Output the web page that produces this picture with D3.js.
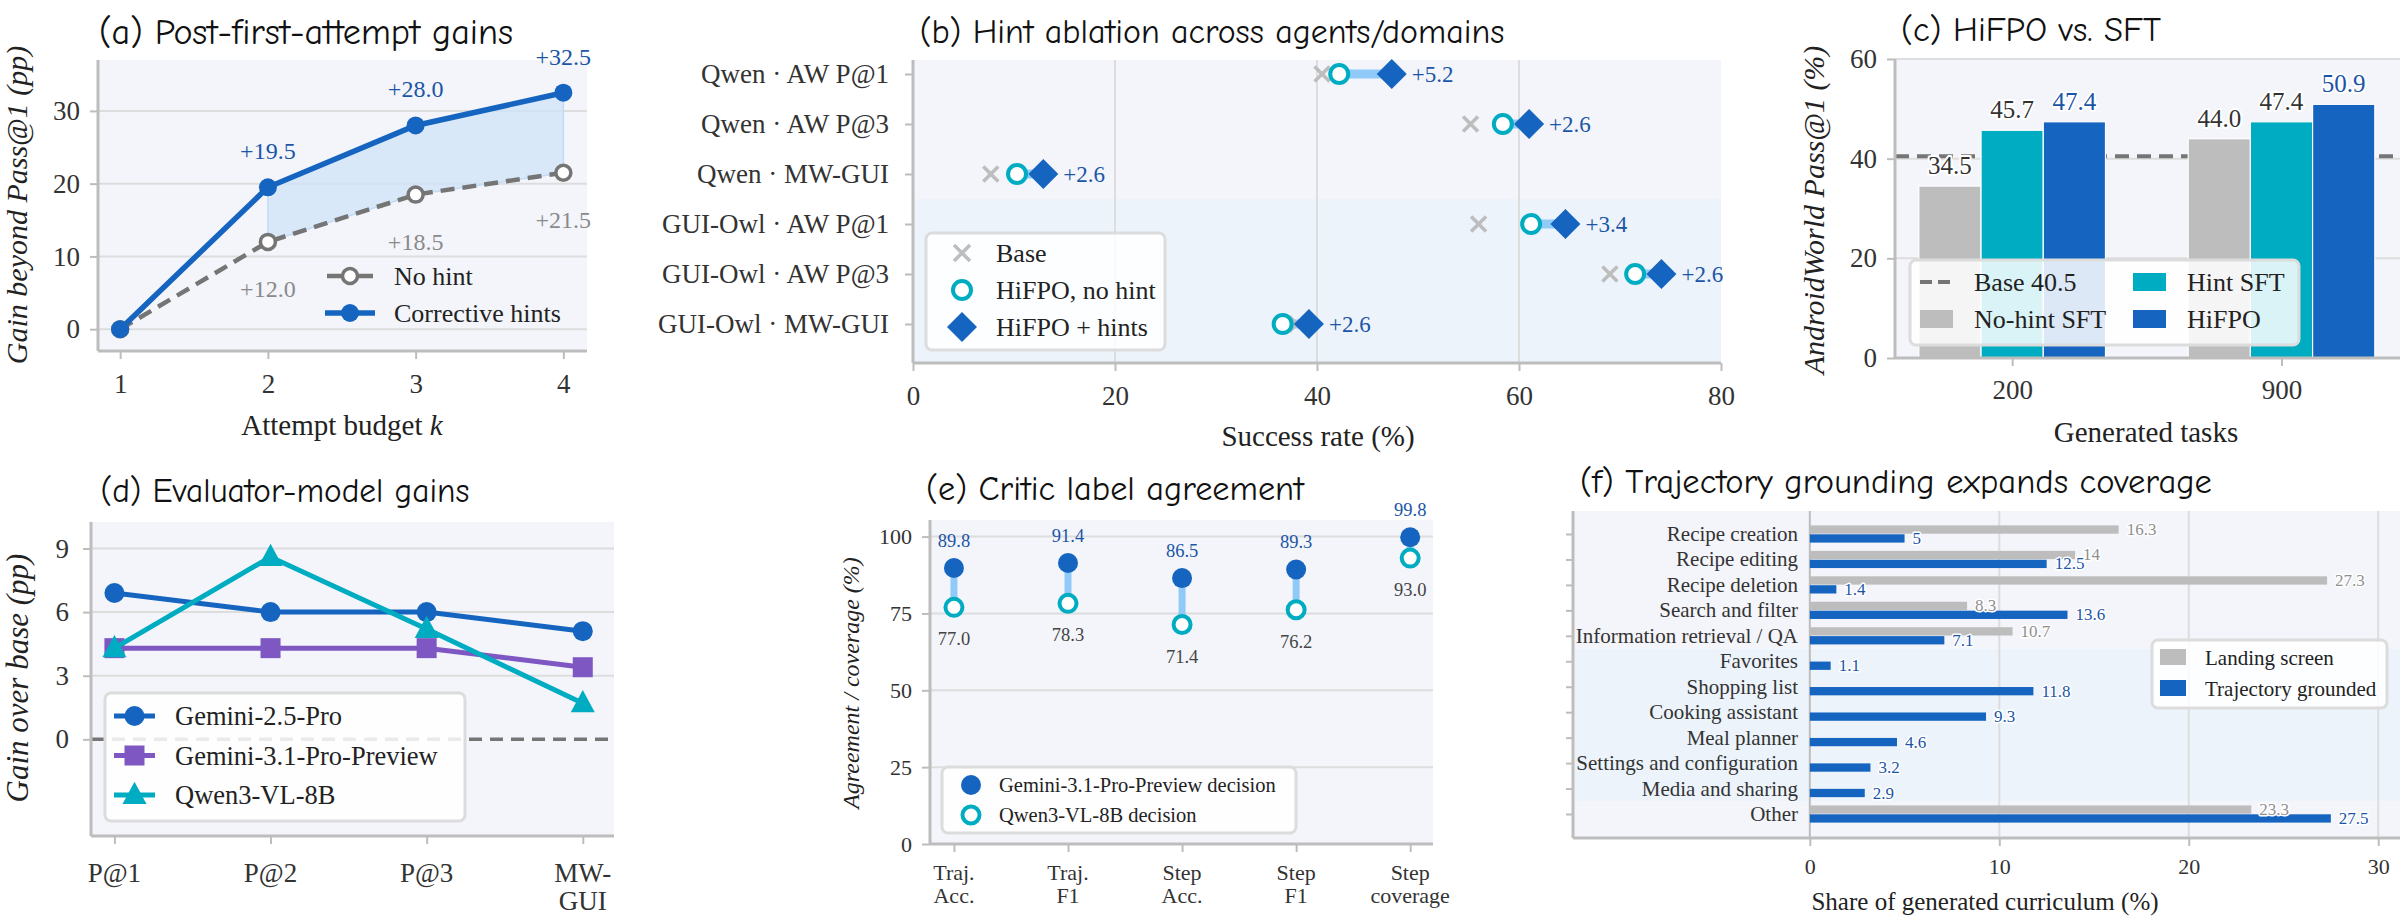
<!DOCTYPE html>
<html><head><meta charset="utf-8">
<script src="https://cdn.jsdelivr.net/npm/d3@7"></script>
<style>
body{margin:0;background:#fff}
text{font-family:"Liberation Serif","Times New Roman",serif;}
</style>
</head><body>
<svg id="chart" width="2400" height="923"></svg>
<script>
// ---------------- DATA ----------------
const aK = [1, 2, 3, 4];
const aNoHint = [0, 12.0, 18.5, 21.5];
const aHint = [0, 19.5, 28.0, 32.5];
const aYTicks = [0, 10, 20, 30];

const bRows = ["Qwen · AW P@1", "Qwen · AW P@3", "Qwen · MW-GUI", "GUI-Owl · AW P@1", "GUI-Owl · AW P@3", "GUI-Owl · MW-GUI"];
const bBase = [40.5, 55.2, 7.7, 56.0, 69.0, 38.0];
const bNoHint = [42.2, 58.4, 10.3, 61.2, 71.5, 36.6];
const bHints = [47.4, 61.0, 12.9, 64.6, 74.1, 39.2];
const bXTicks = [0, 20, 40, 60, 80];

const cGroups = ["200", "900"];
const cNoHintSFT = [34.5, 44.0];
const cHintSFT = [45.7, 47.4];
const cHiFPO = [47.4, 50.9];
const cBase = 40.5;
const cYTicks = [0, 20, 40, 60];

const dCats = [["P@1"], ["P@2"], ["P@3"], ["MW-", "GUI"]];
const dGemini25 = [6.9, 6.0, 6.0, 5.1];
const dGemini31 = [4.3, 4.3, 4.3, 3.4];
const dQwen = [4.3, 8.6, 5.2, 1.7];
const dYTicks = [0, 3, 6, 9];

const eCats = [["Traj.", "Acc."], ["Traj.", "F1"], ["Step", "Acc."], ["Step", "F1"], ["Step", "coverage"]];
const eGemini = [89.8, 91.4, 86.5, 89.3, 99.8];
const eQwen = [77.0, 78.3, 71.4, 76.2, 93.0];
const eYTicks = [0, 25, 50, 75, 100];

const fCats = ["Recipe creation", "Recipe editing", "Recipe deletion", "Search and filter", "Information retrieval / QA", "Favorites", "Shopping list", "Cooking assistant", "Meal planner", "Settings and configuration", "Media and sharing", "Other"];
const fLanding = [16.3, 14, 27.3, 8.3, 10.7, 0, 0, 0, 0, 0, 0, 23.3];
const fTraj = [5, 12.5, 1.4, 13.6, 7.1, 1.1, 11.8, 9.3, 4.6, 3.2, 2.9, 27.5];
const fXTicks = [0, 10, 20, 30];

// ---------------- STYLE ----------------
const C = {bgA:"#f3f5fa", bgB:"#edf3fb", grid:"#dddddd", spine:"#bdbdbd", blue:"#1565c0", teal:"#00acc1",
  gray:"#bdbdbd", conn:"#90caf9", purple:"#7e57c2", dash:"#757575", tick:"#333", lblBlue:"#1b55a6", lblGray:"#8a8a8a"};

const svg = d3.select("#chart");
svg.append("rect").attr("width",2400).attr("height",923).attr("fill","#fff");

function txt(g, x, y, s, o={}) {
  const t = g.append("text").attr("x",x).attr("y",y).text(s)
    .attr("font-size", o.size||27).attr("fill", o.fill||C.tick).attr("text-anchor", o.anchor||"start");
  if (o.italic) t.attr("font-style","italic");
  if (o.halo) t.attr("stroke","#fff").attr("stroke-width",o.halo).attr("paint-order","stroke").attr("stroke-linejoin","round");
  if (o.rotate) t.attr("transform",`rotate(-90,${x},${y})`);
  return t;
}
function title(x, y, s, w) {
  const t = svg.append("text").attr("x",x).attr("y",y).attr("text-anchor","middle")
    .style("font-family",'"Comic Sans MS","Comic Neue","Noto Sans",sans-serif')
    .attr("font-size",30).attr("fill","#111").text(s);
  const L = t.node().getComputedTextLength();
  if (L > 0) t.attr("font-size", 30*w/L);
}
function styleAxis(sel, size) {
  sel.select(".domain").remove();
  sel.selectAll(".tick line").attr("stroke",C.spine).attr("stroke-width",2);
  sel.selectAll(".tick text").attr("fill",C.tick).attr("font-size",size);
}
function spines(g, x0, x1, y0, y1) {
  g.append("line").attr("x1",x0).attr("x2",x0).attr("y1",y0).attr("y2",y1).attr("stroke",C.spine).attr("stroke-width",3);
  g.append("line").attr("x1",x0).attr("x2",x1).attr("y1",y1).attr("y2",y1).attr("stroke",C.spine).attr("stroke-width",3);
}
function legendBox(g, x, y, w, h) {
  g.append("rect").attr("x",x).attr("y",y).attr("width",w).attr("height",h).attr("rx",6)
    .attr("fill","#fff").attr("fill-opacity",0.85).attr("stroke","#dcdcdc").attr("stroke-width",3);
}
const diamond = (cx, cy, r) => `M${cx},${cy-r}L${cx+r},${cy}L${cx},${cy+r}L${cx-r},${cy}Z`;
const triangle = (cx, cy, r) => `M${cx},${cy-r*1.1}L${cx+r},${cy+r*0.75}L${cx-r},${cy+r*0.75}Z`;
const cross = (cx, cy, r) => `M${cx-r},${cy-r}L${cx+r},${cy+r}M${cx-r},${cy+r}L${cx+r},${cy-r}`;

// ---------------- PANEL A ----------------
{
  const P = {x0:98, x1:587, y0:60, y1:351};
  const x = d3.scaleLinear().domain([0.85,4.16]).range([P.x0,P.x1]);
  const y = d3.scaleLinear().domain([-3,37]).range([P.y1,P.y0]);
  const g = svg.append("g");
  g.append("rect").attr("x",P.x0).attr("y",P.y0).attr("width",P.x1-P.x0).attr("height",P.y1-P.y0).attr("fill",C.bgA);
  g.selectAll("line.grid").data(aYTicks).join("line").attr("x1",P.x0).attr("x2",P.x1)
    .attr("y1",d=>y(d)).attr("y2",d=>y(d)).attr("stroke",C.grid).attr("stroke-width",2);
  const area = d3.area().x((d,i)=>x(aK[i+1])).y0((d,i)=>y(aNoHint[i+1])).y1(d=>y(d));
  g.append("path").datum(aHint.slice(1)).attr("d",area).attr("fill","#cfe3f8").attr("fill-opacity",0.75)
    .attr("stroke","#c2dcf6").attr("stroke-width",1.5);
  const ya = g.append("g").attr("transform",`translate(${P.x0},0)`).call(d3.axisLeft(y).tickValues(aYTicks).tickSize(8).tickPadding(10));
  styleAxis(ya, 27);
  const xa = g.append("g").attr("transform",`translate(0,${P.y1})`)
    .call(d3.axisBottom(x).tickValues(aK).tickFormat(d3.format("d")).tickSize(8).tickPadding(15));
  styleAxis(xa, 27);
  spines(g, P.x0, P.x1, P.y0, P.y1);
  const line = d3.line().x((d,i)=>x(aK[i])).y(d=>y(d));
  g.append("path").datum(aNoHint).attr("d",line).attr("fill","none").attr("stroke",C.dash).attr("stroke-width",4.5).attr("stroke-dasharray","14,8");
  g.append("path").datum(aHint).attr("d",line).attr("fill","none").attr("stroke",C.blue).attr("stroke-width",5.5);
  g.selectAll("circle.nh").data(aNoHint).join("circle").attr("cx",(d,i)=>x(aK[i])).attr("cy",d=>y(d)).attr("r",7.5)
    .attr("fill","#fff").attr("stroke",C.dash).attr("stroke-width",3.5);
  g.selectAll("circle.h").data(aHint).join("circle").attr("cx",(d,i)=>x(aK[i])).attr("cy",d=>y(d)).attr("r",9).attr("fill",C.blue);
  aHint.forEach((v,i)=>{ if(i>0) txt(g, x(aK[i]), y(v)-28, "+"+v.toFixed(1), {size:24, fill:C.lblBlue, anchor:"middle"}); });
  aNoHint.forEach((v,i)=>{ if(i>0) txt(g, x(aK[i]), y(v)+55, "+"+v.toFixed(1), {size:24, fill:C.lblGray, anchor:"middle"}); });
  // legend
  g.append("line").attr("x1",327).attr("x2",373).attr("y1",276).attr("y2",276).attr("stroke",C.dash).attr("stroke-width",4.5);
  g.append("circle").attr("cx",350).attr("cy",276).attr("r",7.5).attr("fill","#fff").attr("stroke",C.dash).attr("stroke-width",3.5);
  txt(g, 394, 285, "No hint", {size:26, fill:"#222"});
  g.append("line").attr("x1",325).attr("x2",375).attr("y1",313).attr("y2",313).attr("stroke",C.blue).attr("stroke-width",5.5);
  g.append("circle").attr("cx",350).attr("cy",313).attr("r",9).attr("fill",C.blue);
  txt(g, 394, 322, "Corrective hints", {size:26, fill:"#222"});
  // axis labels
  const xl = txt(g, 342, 435, "Attempt budget ", {size:29, fill:"#222", anchor:"middle"});
  xl.append("tspan").attr("font-style","italic").text("k");
  txt(g, 27, 205, "Gain beyond Pass@1 (pp)", {size:30, fill:"#222", anchor:"middle", italic:true, rotate:true});
}
title(306, 44, "(a) Post-first-attempt gains", 414);

// ---------------- PANEL B ----------------
{
  const P = {x0:913, x1:1721, y0:60, y1:363};
  const x = d3.scaleLinear().domain([0,80]).range([P.x0,P.x1]);
  const y = d3.scaleLinear().domain([-0.28,5.78]).range([P.y0,P.y1]);
  const g = svg.append("g");
  g.append("rect").attr("x",P.x0).attr("y",P.y0).attr("width",P.x1-P.x0).attr("height",y(2.5)-P.y0).attr("fill",C.bgA);
  g.append("rect").attr("x",P.x0).attr("y",y(2.5)).attr("width",P.x1-P.x0).attr("height",P.y1-y(2.5)).attr("fill",C.bgB);
  g.selectAll("line.grid").data(bXTicks.slice(1,4)).join("line").attr("x1",d=>x(d)).attr("x2",d=>x(d))
    .attr("y1",P.y0).attr("y2",P.y1).attr("stroke",C.grid).attr("stroke-width",2);
  const ya = g.append("g").attr("transform",`translate(${P.x0},0)`)
    .call(d3.axisLeft(y).tickValues(d3.range(bRows.length)).tickFormat(i=>bRows[i]).tickSize(8).tickPadding(16));
  styleAxis(ya, 27);
  const xa = g.append("g").attr("transform",`translate(0,${P.y1})`).call(d3.axisBottom(x).tickValues(bXTicks).tickSize(8).tickPadding(15));
  styleAxis(xa, 27);
  spines(g, P.x0, P.x1, P.y0, P.y1);
  bRows.forEach((r,i)=>{
    const cy = y(i);
    g.append("line").attr("x1",x(bNoHint[i])).attr("x2",x(bHints[i])).attr("y1",cy).attr("y2",cy).attr("stroke",C.conn).attr("stroke-width",9);
    g.append("path").attr("d",cross(x(bBase[i]),cy,7.5)).attr("stroke",C.gray).attr("stroke-width",3.5).attr("fill","none");
    g.append("circle").attr("cx",x(bNoHint[i])).attr("cy",cy).attr("r",9).attr("fill","#fff").attr("stroke",C.teal).attr("stroke-width",4);
    g.append("path").attr("d",diamond(x(bHints[i]),cy,15)).attr("fill",C.blue);
    txt(g, x(bHints[i])+20, cy+8, "+"+(bHints[i]-bNoHint[i]).toFixed(1), {size:23, fill:C.lblBlue});
  });
  legendBox(g, 926, 233, 239, 117);
  g.append("path").attr("d",cross(962,253,8)).attr("stroke",C.gray).attr("stroke-width",3.5).attr("fill","none");
  txt(g, 996, 262, "Base", {size:26, fill:"#222"});
  g.append("circle").attr("cx",962).attr("cy",290).attr("r",9).attr("fill","#fff").attr("stroke",C.teal).attr("stroke-width",4);
  txt(g, 996, 299, "HiFPO, no hint", {size:26, fill:"#222"});
  g.append("path").attr("d",diamond(962,327,15)).attr("fill",C.blue);
  txt(g, 996, 336, "HiFPO + hints", {size:26, fill:"#222"});
  txt(g, 1318, 446, "Success rate (%)", {size:29, fill:"#222", anchor:"middle"});
}
title(1212, 43, "(b) Hint ablation across agents/domains", 585);

// ---------------- PANEL C ----------------
{
  const P = {x0:1895, x1:2400, y0:59, y1:358};
  const x = d3.scaleLinear().domain([-0.435,1.44]).range([P.x0,P.x1]);
  const y = d3.scaleLinear().domain([0,60]).range([P.y1,P.y0]);
  const g = svg.append("g");
  g.append("rect").attr("x",P.x0).attr("y",P.y0).attr("width",P.x1-P.x0).attr("height",P.y1-P.y0).attr("fill",C.bgA);
  g.selectAll("line.grid").data(cYTicks.slice(1)).join("line").attr("x1",P.x0).attr("x2",P.x1)
    .attr("y1",d=>y(d)).attr("y2",d=>y(d)).attr("stroke",C.grid).attr("stroke-width",2);
  g.append("line").attr("x1",P.x0).attr("x2",P.x1).attr("y1",y(cBase)).attr("y2",y(cBase))
    .attr("stroke",C.dash).attr("stroke-width",4).attr("stroke-dasharray","14,8");
  const bw = 0.231;
  const series = [{v:cNoHintSFT, c:C.gray, off:-1, lc:C.tick}, {v:cHintSFT, c:C.teal, off:0, lc:C.tick}, {v:cHiFPO, c:C.blue, off:1, lc:C.lblBlue}];
  series.forEach(s=>{
    s.v.forEach((v,i)=>{
      const xl = x(i + s.off*bw - bw/2), xr = x(i + s.off*bw + bw/2);
      g.append("rect").attr("x",xl).attr("y",y(v)).attr("width",xr-xl).attr("height",y(0)-y(v))
        .attr("fill",s.c).attr("stroke","#fff").attr("stroke-width",1.2);
    });
  });
  series.forEach(s=>{
    s.v.forEach((v,i)=>{
      txt(g, x(i + s.off*bw), y(v)-12, v.toFixed(1), {size:25, fill:s.lc, anchor:"middle", halo:4});
    });
  });
  const ya = g.append("g").attr("transform",`translate(${P.x0},0)`).call(d3.axisLeft(y).tickValues(cYTicks).tickSize(8).tickPadding(10));
  styleAxis(ya, 27);
  const xa = g.append("g").attr("transform",`translate(0,${P.y1})`)
    .call(d3.axisBottom(x).tickValues([0,1]).tickFormat(i=>cGroups[i]).tickSize(8).tickPadding(14));
  styleAxis(xa, 27);
  spines(g, P.x0, P.x1, P.y0, P.y1);
  legendBox(g, 1910, 260, 389, 85);
  g.append("line").attr("x1",1920).attr("x2",1953).attr("y1",282).attr("y2",282).attr("stroke",C.dash).attr("stroke-width",4).attr("stroke-dasharray","12,6");
  txt(g, 1974, 291, "Base 40.5", {size:26, fill:"#222"});
  g.append("rect").attr("x",1920).attr("y",310).attr("width",33).attr("height",18).attr("fill",C.gray);
  txt(g, 1974, 328, "No-hint SFT", {size:26, fill:"#222"});
  g.append("rect").attr("x",2133).attr("y",273).attr("width",33).attr("height",18).attr("fill",C.teal);
  txt(g, 2187, 291, "Hint SFT", {size:26, fill:"#222"});
  g.append("rect").attr("x",2133).attr("y",310).attr("width",33).attr("height",18).attr("fill",C.blue);
  txt(g, 2187, 328, "HiFPO", {size:26, fill:"#222"});
  txt(g, 2146, 442, "Generated tasks", {size:29, fill:"#222", anchor:"middle"});
  txt(g, 1824, 210, "AndroidWorld Pass@1 (%)", {size:30, fill:"#222", anchor:"middle", italic:true, rotate:true});
}
title(2031, 41, "(c) HiFPO vs. SFT", 260);

// ---------------- PANEL D ----------------
{
  const P = {x0:91, x1:614, y0:522, y1:836};
  const x = d3.scaleLinear().domain([-0.15,3.2]).range([P.x0,P.x1]);
  const y = d3.scaleLinear().domain([-4.56,10.25]).range([P.y1,P.y0]);
  const g = svg.append("g");
  g.append("rect").attr("x",P.x0).attr("y",P.y0).attr("width",P.x1-P.x0).attr("height",P.y1-P.y0).attr("fill",C.bgA);
  g.selectAll("line.grid").data(dYTicks.slice(1)).join("line").attr("x1",P.x0).attr("x2",P.x1)
    .attr("y1",d=>y(d)).attr("y2",d=>y(d)).attr("stroke",C.grid).attr("stroke-width",2);
  g.append("line").attr("x1",P.x0).attr("x2",P.x1).attr("y1",y(0)).attr("y2",y(0))
    .attr("stroke",C.dash).attr("stroke-width",3.5).attr("stroke-dasharray","13,8");
  const ya = g.append("g").attr("transform",`translate(${P.x0},0)`).call(d3.axisLeft(y).tickValues(dYTicks).tickSize(8).tickPadding(14));
  styleAxis(ya, 27);
  const xa = g.append("g").attr("transform",`translate(0,${P.y1})`)
    .call(d3.axisBottom(x).tickValues(d3.range(dCats.length)).tickFormat("").tickSize(8));
  styleAxis(xa, 27);
  dCats.forEach((lines,i)=>lines.forEach((s,j)=>txt(g, x(i), 882+j*28, s, {size:27, anchor:"middle"})));
  spines(g, P.x0, P.x1, P.y0, P.y1);
  const line = d3.line().x((d,i)=>x(i)).y(d=>y(d));
  const ser = [{v:dGemini25, c:C.blue, m:"c"}, {v:dGemini31, c:C.purple, m:"s"}, {v:dQwen, c:C.teal, m:"t"}];
  const mark = (gg, m, cx, cy, c) => {
    if (m==="c") gg.append("circle").attr("cx",cx).attr("cy",cy).attr("r",10).attr("fill",c);
    else if (m==="s") gg.append("rect").attr("x",cx-10).attr("y",cy-10).attr("width",20).attr("height",20).attr("fill",c);
    else gg.append("path").attr("d",triangle(cx,cy,12)).attr("fill",c);
  };
  ser.forEach(s=>{
    g.append("path").datum(s.v).attr("d",line).attr("fill","none").attr("stroke",s.c).attr("stroke-width",5);
    s.v.forEach((v,i)=>mark(g, s.m, x(i), y(v), s.c));
  });
  legendBox(g, 105, 693, 360, 128);
  const names = ["Gemini-2.5-Pro", "Gemini-3.1-Pro-Preview", "Qwen3-VL-8B"];
  ser.forEach((s,k)=>{
    const ly = 716 + k*39.5;
    g.append("line").attr("x1",114).attr("x2",155).attr("y1",ly).attr("y2",ly).attr("stroke",s.c).attr("stroke-width",5);
    mark(g, s.m, 134.5, ly, s.c);
    txt(g, 175, ly+9, names[k], {size:26.5, fill:"#222"});
  });
  txt(g, 28, 678, "Gain over base (pp)", {size:31, fill:"#222", anchor:"middle", italic:true, rotate:true});
}
title(285, 502, "(d) Evaluator-model gains", 369);

// ---------------- PANEL E ----------------
{
  const P = {x0:930, x1:1433, y0:520, y1:844};
  const x = d3.scaleLinear().domain([-0.21,4.2]).range([P.x0,P.x1]);
  const y = d3.scaleLinear().domain([0,105.4]).range([P.y1,P.y0]);
  const g = svg.append("g");
  g.append("rect").attr("x",P.x0).attr("y",P.y0).attr("width",P.x1-P.x0).attr("height",P.y1-P.y0).attr("fill",C.bgA);
  g.selectAll("line.grid").data(eYTicks.slice(1)).join("line").attr("x1",P.x0).attr("x2",P.x1)
    .attr("y1",d=>y(d)).attr("y2",d=>y(d)).attr("stroke",C.grid).attr("stroke-width",2);
  const ya = g.append("g").attr("transform",`translate(${P.x0},0)`).call(d3.axisLeft(y).tickValues(eYTicks).tickSize(8).tickPadding(10));
  styleAxis(ya, 22);
  const xa = g.append("g").attr("transform",`translate(0,${P.y1})`)
    .call(d3.axisBottom(x).tickValues(d3.range(eCats.length)).tickFormat("").tickSize(8));
  styleAxis(xa, 22);
  eCats.forEach((lines,i)=>lines.forEach((s,j)=>txt(g, x(i), 880+j*23, s, {size:22, anchor:"middle"})));
  spines(g, P.x0, P.x1, P.y0, P.y1);
  eCats.forEach((c,i)=>{
    g.append("line").attr("x1",x(i)).attr("x2",x(i)).attr("y1",y(eGemini[i])).attr("y2",y(eQwen[i])).attr("stroke",C.conn).attr("stroke-width",7);
    g.append("circle").attr("cx",x(i)).attr("cy",y(eGemini[i])).attr("r",10).attr("fill",C.blue);
    g.append("circle").attr("cx",x(i)).attr("cy",y(eQwen[i])).attr("r",8.5).attr("fill","#fff").attr("stroke",C.teal).attr("stroke-width",4);
    txt(g, x(i), y(eGemini[i])-21, eGemini[i].toFixed(1), {size:18.5, fill:C.lblBlue, anchor:"middle"});
    txt(g, x(i), y(eQwen[i])+38, eQwen[i].toFixed(1), {size:18.5, fill:"#444", anchor:"middle"});
  });
  legendBox(g, 942, 767, 354, 66);
  g.append("circle").attr("cx",971).attr("cy",785).attr("r",10).attr("fill",C.blue);
  txt(g, 999, 792, "Gemini-3.1-Pro-Preview decision", {size:20.5, fill:"#222"});
  g.append("circle").attr("cx",971).attr("cy",815).attr("r",8.5).attr("fill","#fff").attr("stroke",C.teal).attr("stroke-width",4);
  txt(g, 999, 822, "Qwen3-VL-8B decision", {size:20.5, fill:"#222"});
  txt(g, 859, 683, "Agreement / coverage (%)", {size:24, fill:"#222", anchor:"middle", italic:true, rotate:true});
}
title(1115, 500, "(e) Critic label agreement", 378);

// ---------------- PANEL F ----------------
{
  const P = {x0:1573, x1:2400, y0:511, y1:838};
  const x = d3.scaleLinear().domain([-12.5,31.15]).range([P.x0,P.x1]);
  const y = d3.scaleLinear().domain([0,11]).range([534,814]);
  const g = svg.append("g");
  g.append("rect").attr("x",P.x0).attr("y",P.y0).attr("width",P.x1-P.x0).attr("height",y(4.5)-P.y0).attr("fill",C.bgA);
  g.append("rect").attr("x",P.x0).attr("y",y(4.5)).attr("width",P.x1-P.x0).attr("height",y(10.5)-y(4.5)).attr("fill",C.bgB);
  g.append("rect").attr("x",P.x0).attr("y",y(10.5)).attr("width",P.x1-P.x0).attr("height",P.y1-y(10.5)).attr("fill",C.bgA);
  g.selectAll("line.grid").data(fXTicks.slice(1)).join("line").attr("x1",d=>x(d)).attr("x2",d=>x(d))
    .attr("y1",P.y0).attr("y2",P.y1).attr("stroke",C.grid).attr("stroke-width",2);
  g.append("line").attr("x1",x(0)).attr("x2",x(0)).attr("y1",P.y0).attr("y2",P.y1).attr("stroke",C.spine).attr("stroke-width",2);
  const ya = g.append("g").attr("transform",`translate(${P.x0},0)`)
    .call(d3.axisLeft(y).tickValues(d3.range(fCats.length)).tickFormat("").tickSize(7));
  styleAxis(ya, 21);
  const xa = g.append("g").attr("transform",`translate(0,${P.y1})`).call(d3.axisBottom(x).tickValues(fXTicks).tickSize(8).tickPadding(12));
  styleAxis(xa, 22);
  spines(g, P.x0, P.x1, P.y0, P.y1);
  fCats.forEach((c,i)=>{
    const cy = y(i);
    txt(g, 1798, cy+7, c, {size:21, anchor:"end"});
    if (fLanding[i] > 0) {
      g.append("rect").attr("x",x(0)).attr("y",cy-8.6).attr("width",x(fLanding[i])-x(0)).attr("height",8.3).attr("fill",C.gray);
    }
    g.append("rect").attr("x",x(0)).attr("y",cy+0.3).attr("width",x(fTraj[i])-x(0)).attr("height",8.3).attr("fill",C.blue);
  });
  fCats.forEach((c,i)=>{
    const cy = y(i);
    if (fLanding[i] > 0) txt(g, x(fLanding[i])+8, cy+1, String(fLanding[i]), {size:17, fill:"#8f8f8f", halo:3});
    txt(g, x(fTraj[i])+8, cy+10, String(fTraj[i]), {size:17, fill:C.lblBlue, halo:3});
  });
  legendBox(g, 2152, 640, 235, 68);
  g.append("rect").attr("x",2160).attr("y",649).attr("width",26).attr("height",16).attr("fill",C.gray);
  txt(g, 2205, 665, "Landing screen", {size:21, fill:"#222"});
  g.append("rect").attr("x",2160).attr("y",680).attr("width",26).attr("height",16).attr("fill",C.blue);
  txt(g, 2205, 696, "Trajectory grounded", {size:21, fill:"#222"});
  txt(g, 1985, 910, "Share of generated curriculum (%)", {size:25, fill:"#222", anchor:"middle"});
}
title(1896, 493, "(f) Trajectory grounding expands coverage", 632);
</script>
</body></html>
